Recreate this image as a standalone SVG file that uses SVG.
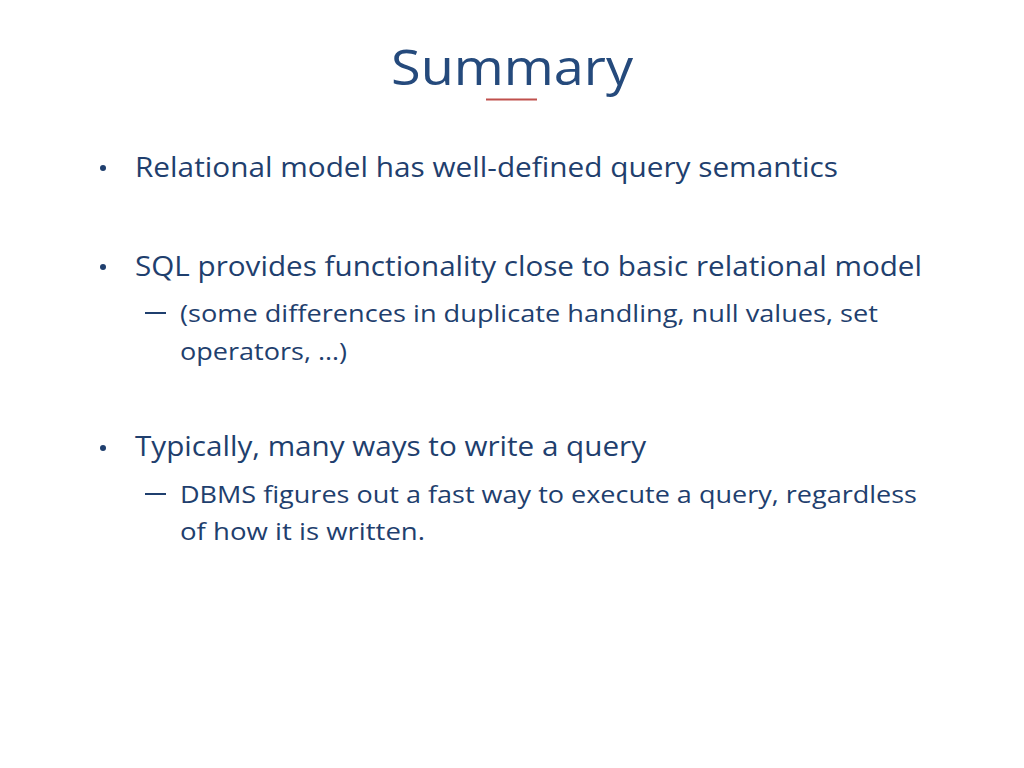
<svg xmlns="http://www.w3.org/2000/svg" width="1024" height="768" viewBox="0 0 1024 768">
<style>
text{font-family:"Open Sans","Liberation Sans",sans-serif;fill:#1F3F6E}
.b{font-size:28px}.s{font-size:24px}.t{font-size:50px;fill:#254A7C}
</style>
<rect width="1024" height="768" fill="#fff"/>
<text class="t" x="391" y="85" textLength="242" lengthAdjust="spacingAndGlyphs">Summary</text>
<line x1="486" y1="99.5" x2="537" y2="99.5" stroke="#C0504D" stroke-width="2"/>
<g>
<circle cx="103" cy="168" r="3" fill="#1F3F6E"/>
<text class="b" x="135" y="177" textLength="703" lengthAdjust="spacingAndGlyphs">Relational model has well-defined query semantics</text>
<circle cx="103" cy="267" r="3" fill="#1F3F6E"/>
<text class="b" x="135" y="276" textLength="787" lengthAdjust="spacingAndGlyphs">SQL provides functionality close to basic relational model</text>
<line x1="145" y1="313" x2="166" y2="313" stroke="#1F3F6E" stroke-width="2"/>
<text class="s" x="180" y="322" textLength="698" lengthAdjust="spacingAndGlyphs">(some differences in duplicate handling, null values, set</text>
<text class="s" x="180" y="360" textLength="167" lengthAdjust="spacingAndGlyphs">operators, …)</text>
<circle cx="103" cy="448" r="3" fill="#1F3F6E"/>
<text class="b" x="135" y="456" textLength="511" lengthAdjust="spacingAndGlyphs">Typically, many ways to write a query</text>
<line x1="145" y1="494" x2="166" y2="494" stroke="#1F3F6E" stroke-width="2"/>
<text class="s" x="180" y="503" textLength="737" lengthAdjust="spacingAndGlyphs">DBMS figures out a fast way to execute a query, regardless</text>
<text class="s" x="180" y="540" textLength="245" lengthAdjust="spacingAndGlyphs">of how it is written.</text>
</g>
</svg>
